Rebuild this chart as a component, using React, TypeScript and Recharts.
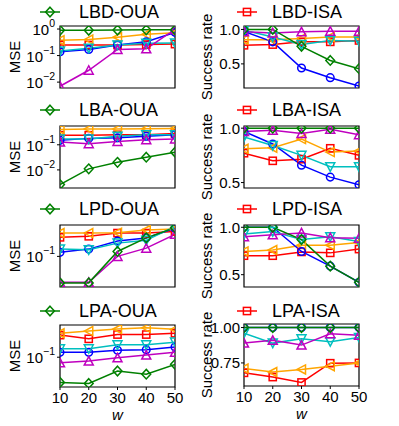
import { LineChart, Line, XAxis, YAxis, ReferenceArea, Label } from "recharts"

const W_VALUES = [10, 20, 30, 40, 50]

// one small record of series per panel
const lbdOua = {
  red: [0.25, 0.25, 0.25, 0.26, 0.27],
  orange: [0.38, 0.4, 0.49, 0.63, 0.72],
  blue: [0.14, 0.17, 0.25, 0.33, 0.75],
  cyan: [0.15, 0.19, 0.25, 0.29, 0.3],
  magenta: [0.007, 0.028, 0.17, 0.18, 0.97],
  green: [0.9, 0.9, 0.92, 0.93, 0.93],
}
const lbdIsa = {
  red: [0.77, 0.78, 0.82, 0.82, 0.84],
  orange: [0.85, 0.85, 0.87, 0.89, 0.89],
  blue: [0.97, 0.82, 0.44, 0.3, 0.18],
  cyan: [0.99, 0.89, 0.78, 0.84, 0.83],
  magenta: [0.965, 0.95, 0.965, 0.975, 0.975],
  green: [1.0, 1.0, 0.755, 0.55, 0.43],
}
const lbaOua = {
  red: [0.24, 0.24, 0.25, 0.25, 0.28],
  orange: [0.41, 0.43, 0.43, 0.44, 0.45],
  blue: [0.15, 0.18, 0.19, 0.22, 0.25],
  cyan: [0.17, 0.17, 0.22, 0.25, 0.25],
  magenta: [0.128, 0.11, 0.136, 0.16, 0.17],
  green: [0.0026, 0.011, 0.02, 0.032, 0.051],
}
const lbaIsa = {
  red: [0.77, 0.7, 0.715, 0.815, 0.75],
  orange: [0.81, 0.82, 0.9, 0.78, 0.79],
  blue: [0.97, 0.855, 0.66, 0.55, 0.48],
  cyan: [0.92, 0.84, 0.75, 0.645, 0.645],
  magenta: [0.97, 0.98, 0.95, 0.99, 0.94],
  green: [1, 1, 1, 1, 1],
}
const lpdOua = {
  red: [0.31, 0.33, 0.4, 0.4, 0.44],
  orange: [0.4, 0.4, 0.41, 0.48, 0.51],
  blue: [0.127, 0.154, 0.25, 0.3, 0.53],
  cyan: [0.154, 0.148, 0.22, 0.26, 0.59],
  magenta: [0.0215, 0.0215, 0.1, 0.163, 0.37],
  green: [0.0207, 0.0207, 0.134, 0.3, 0.55],
}
const lpdIsa = {
  red: [0.7, 0.7, 0.74, 0.73, 0.77],
  orange: [0.745, 0.76, 0.81, 0.81, 0.84],
  blue: [1, 1, 0.745, 0.59, 0.42],
  cyan: [0.93, 0.955, 0.87, 0.9, 0.85],
  magenta: [0.9, 0.92, 0.94, 0.89, 0.885],
  green: [1, 1, 0.87, 0.59, 0.42],
}
const lpaOua = {
  red: [0.33, 0.27, 0.34, 0.34, 0.365],
  orange: [0.365, 0.41, 0.46, 0.49, 0.45],
  blue: [0.13, 0.13, 0.145, 0.15, 0.173],
  cyan: [0.158, 0.158, 0.196, 0.196, 0.226],
  magenta: [0.074, 0.081, 0.097, 0.112, 0.13],
  green: [0.0256, 0.0242, 0.0475, 0.04, 0.068],
}
const lpaIsa = {
  red: [0.68, 0.65, 0.612, 0.748, 0.75],
  orange: [0.71, 0.686, 0.704, 0.727, 0.75],
  blue: [1, 1, 1, 1, 1],
  cyan: [0.96, 0.89, 0.92, 0.9, 0.93],
  magenta: [0.89, 0.91, 0.876, 0.956, 0.945],
  green: [1, 1, 1, 1, 1],
}

const FONT = '"Liberation Sans", Arial, Helvetica, sans-serif'
const ORDER = ["red", "orange", "blue", "cyan", "magenta", "green"]
const COLORS: Record<string, string> = {
  green: "#008000",
  red: "#ff0000",
  orange: "#ffa500",
  blue: "#0000ff",
  cyan: "#00bfbf",
  magenta: "#bf00bf",
}
const SHAPES: Record<string, string> = {
  green: "diamond",
  red: "square",
  orange: "left",
  blue: "circle",
  cyan: "down",
  magenta: "up",
}

function Marker({ cx, cy, kind, color }: any) {
  if (cx == null || cy == null) return null
  const common = { fill: "none", stroke: color, strokeWidth: 1.5 }
  switch (kind) {
    case "circle":
      return <circle cx={cx} cy={cy} r={3.8} {...common} />
    case "square":
      return <rect x={cx - 3.6} y={cy - 3.6} width={7.2} height={7.2} {...common} />
    case "diamond":
      return <polygon points={`${cx},${cy - 4.8} ${cx + 4.4},${cy} ${cx},${cy + 4.8} ${cx - 4.4},${cy}`} {...common} />
    case "up":
      return <polygon points={`${cx},${cy - 4.5} ${cx + 4.5},${cy + 4} ${cx - 4.5},${cy + 4}`} {...common} />
    case "down":
      return <polygon points={`${cx},${cy + 4.5} ${cx + 4.5},${cy - 4} ${cx - 4.5},${cy - 4}`} {...common} />
    case "left":
      return <polygon points={`${cx - 4.5},${cy} ${cx + 4},${cy - 4.5} ${cx + 4},${cy + 4.5}`} {...common} />
  }
  return null
}

function LogTick({ x, y, payload }: any) {
  const exp = Math.round(Math.log10(payload.value))
  return (
    <text x={x} y={y + 6} textAnchor="end" fontFamily={FONT} fill="#000">
      <tspan fontSize={15}>10</tspan>
      <tspan fontSize={10.5} dy={-8}>
        {exp < 0 ? `\u2212${-exp}` : `${exp}`}
      </tspan>
    </text>
  )
}

interface PanelProps {
  title: string
  values: Record<string, number[]>
  log: boolean
  domain: [number, number]
  ticks: number[]
  digits?: number
  col: 0 | 1
  plotTop: number
  legendY: number
  bottom?: boolean
}

const PAD_TOP = 12

function Panel({ title, values, log, domain, ticks, digits = 1, col, plotTop, legendY, bottom }: PanelProps) {
  const data = W_VALUES.map((w, i) => {
    const row: Record<string, number> = { w }
    ORDER.forEach((k) => (row[k] = values[k][i]))
    return row
  })
  const left = col === 0 ? 0 : 199
  const width = col === 0 ? 199 : 200
  const yWidth = col === 0 ? 60 : 45
  const marginRight = col === 0 ? 24 : 40
  const plotBottom = 426 - (plotTop + 62)
  const padBottom = bottom ? Math.min(39, plotBottom) : 10
  const height = PAD_TOP + 62 + padBottom
  const legendKey = col === 0 ? "green" : "red"
  const iconX = col === 0 ? 50 : 247
  const textX = col === 0 ? 79 : 272
  const yLabel = col === 0 ? "MSE" : "Success rate"
  const yLabelX = col === 0 ? 15 : 207

  return (
    <>
      <svg style={{ position: "absolute", left: iconX - 11, top: legendY - 8 }} width={22} height={16}>
        <line x1={1} x2={21} y1={8} y2={8} stroke={COLORS[legendKey]} strokeWidth={1.5} />
        <Marker cx={11} cy={8} kind={SHAPES[legendKey]} color={COLORS[legendKey]} />
      </svg>
      <div
        style={{
          position: "absolute",
          left: textX,
          top: legendY - 11,
          fontFamily: FONT,
          fontSize: 18,
          lineHeight: "22px",
          color: "#000",
          whiteSpace: "nowrap",
        }}
      >
        {title}
      </div>
      <div
        style={{
          position: "absolute",
          left: yLabelX - 60,
          top: plotTop + 31 - 9,
          width: 120,
          height: 18,
          lineHeight: "18px",
          textAlign: "center",
          transform: "rotate(-90deg)",
          fontFamily: FONT,
          fontSize: 15,
          color: "#000",
          whiteSpace: "nowrap",
        }}
      >
        {yLabel}
      </div>
      <div style={{ position: "absolute", left, top: plotTop - PAD_TOP, width, height }}>
        <LineChart
          width={width}
          height={height}
          data={data}
          margin={{ top: PAD_TOP, right: marginRight, left: 0, bottom: bottom ? 0 : padBottom }}
        >
          <XAxis
            dataKey="w"
            type="number"
            domain={[10, 50]}
            ticks={W_VALUES}
            interval={0}
            allowDataOverflow
            hide={!bottom}
            height={bottom ? padBottom : 0}
            axisLine={false}
            tickLine={{ stroke: "#000" }}
            tickSize={3}
            tickMargin={2}
            tick={{ fill: "#000", fontSize: 15, fontFamily: FONT }}
          >
            {bottom && (
              <Label
                content={({ viewBox }: any) => (
                  <text
                    x={viewBox.x + viewBox.width / 2}
                    y={viewBox.y + 33}
                    textAnchor="middle"
                    fontFamily={FONT}
                    fontStyle="italic"
                    fontSize={15}
                    fill="#000"
                  >
                    w
                  </text>
                )}
              />
            )}
          </XAxis>
          <YAxis
            type="number"
            scale={log ? "log" : "linear"}
            domain={domain}
            allowDataOverflow
            ticks={ticks}
            interval={0}
            width={yWidth}
            axisLine={false}
            tickLine={{ stroke: "#000" }}
            tickSize={3}
            tickMargin={col === 0 ? 2 : 1}
            tick={log ? <LogTick /> : { fill: "#000", fontSize: 15, fontFamily: FONT }}
            tickFormatter={(v: number) => v.toFixed(digits)}
          />
          <ReferenceArea x1={10} x2={50} y1={domain[0]} y2={domain[1]} fill="none" stroke="#000" strokeWidth={1.2} />
          {ORDER.map((k) => (
            <Line
              key={k}
              dataKey={k}
              stroke={COLORS[k]}
              strokeWidth={1.5}
              isAnimationActive={false}
              activeDot={false}
              dot={(p: any) => <Marker key={`${k}-${p.index}`} cx={p.cx} cy={p.cy} kind={SHAPES[k]} color={COLORS[k]} />}
            />
          ))}
        </LineChart>
      </div>
    </>
  )
}

export default function App() {
  return (
    <div style={{ position: "absolute", left: 0, top: 0, width: 399, height: 426, background: "#fff" }}>
      <Panel title="LBD-OUA" values={lbdOua} log domain={[0.006, 1.3]} ticks={[0.01, 0.1, 1]} col={0} plotTop={26} legendY={12} />
      <Panel title="LBD-ISA" values={lbdIsa} log={false} domain={[0.15, 1.05]} ticks={[0.5, 1.0]} col={1} plotTop={26} legendY={12} />
      <Panel title="LBA-OUA" values={lbaOua} log domain={[0.0019, 0.56]} ticks={[0.01, 0.1]} col={0} plotTop={126} legendY={110} />
      <Panel title="LBA-ISA" values={lbaIsa} log={false} domain={[0.45, 1.02]} ticks={[0.5, 1.0]} col={1} plotTop={126} legendY={110} />
      <Panel title="LPD-OUA" values={lpdOua} log domain={[0.0162, 0.646]} ticks={[0.1]} col={0} plotTop={225} legendY={209} />
      <Panel title="LPD-ISA" values={lpdIsa} log={false} domain={[0.37, 1.024]} ticks={[0.5, 1.0]} col={1} plotTop={225} legendY={209} />
      <Panel title="LPA-OUA" values={lpaOua} log domain={[0.02, 0.57]} ticks={[0.1]} col={0} plotTop={325} legendY={311} bottom />
      <Panel title="LPA-ISA" values={lpaIsa} log={false} domain={[0.587, 1.025]} ticks={[0.75, 1.0]} digits={2} col={1} plotTop={324} legendY={311} bottom />
    </div>
  )
}
